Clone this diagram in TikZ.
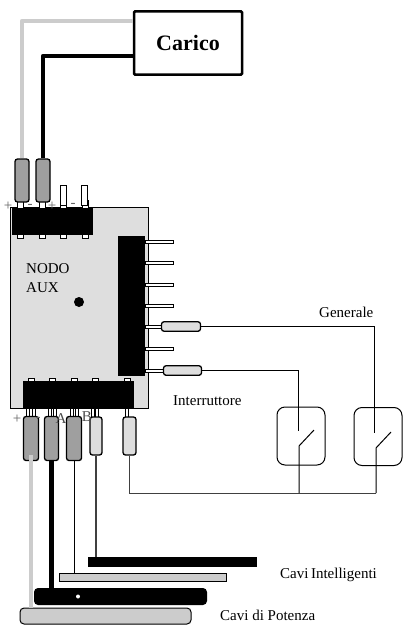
\documentclass[tikz,border=0pt]{standalone}
\usepackage{fontspec}
\setmainfont{Liberation Serif}
\tikzset{
  label15/.style={inner sep=0pt,font=\fontsize{15}{15}\selectfont},
  block/.style={fill=black,inner sep=0pt},
  plug/.style={draw,line width=1.3pt,rounded corners=2.5pt,fill=gray!75,inner sep=0pt},
  lightplug/.style={plug,fill=black!13},
  pin/.style={draw,line width=0.8pt,fill=white,inner sep=0pt},
  bar/.style={inner sep=0pt},
  switchbox/.style={draw,line width=1pt,rounded corners=8pt,inner sep=0pt,minimum width=48pt,minimum height=58pt},
  wire/.style={line width=1pt},
  powergrey/.style={line width=4.5pt,draw=black!20},
  powerblack/.style={line width=4.5pt,draw=black}
}
\begin{document}
\begin{tikzpicture}[x=1pt,y=-1pt]
  \useasboundingbox (0,0) rectangle (404,626);
  % Load
  \node[draw,line width=2.5pt,rounded corners=1pt,inner sep=0pt,minimum width=108pt,minimum height=63pt,font=\fontsize{22}{22}\selectfont\bfseries] (carico) at (188,43) {Carico};
  \coordinate (caricoA) at (carico.west |- 0,21);
  \coordinate (caricoB) at (carico.west |- 0,56);
  % Board
  \node[draw,line width=1pt,fill=black!13,inner sep=0pt,minimum width=138pt,minimum height=201pt] (nodo) at (79.5,307.5) {};
  \node[label15,anchor=west,align=left] (nodotext) at (26,278.5) {NODO\\[4pt]AUX};
  \node[circle,fill=black,inner sep=0pt,minimum size=10pt] (dot) at (79,302) {};
  % Top pins
  \foreach \x in {20, 42, 63, 85} {
    \draw[line width=0.8pt,fill=white] (\x-3,200) rectangle (\x+3,208);
    \draw[line width=0.8pt,fill=white] (\x-3,234) rectangle (\x+3,238.5);
  }
  \node[pin,minimum width=6pt,minimum height=20pt] (pinC) at (63,195) {};
  \node[pin,minimum width=6pt,minimum height=20pt] (pinD) at (84.5,195) {};
  \node[block,minimum width=81pt,minimum height=27pt] (topblock) at (52.5,221.5) {};
  \node[plug,minimum width=14pt,minimum height=43pt] (plugA) at (22,180.5) {};
  \node[plug,minimum width=14pt,minimum height=43pt] (plugB) at (43,180.5) {};
  \node[label15,text=black!60] (plus) at (8,206) {+};
  \node[label15,text=black!60] (minus) at (30,206) {-};
  \node[label15,text=black!60] (plusb) at (52,206) {+};
  \node[label15,text=black!60] (minusb) at (73,205) {-};
  % Power wires to the load
  \draw[powergrey,line join=round] (plugA.north) -- (plugA.north |- caricoA) -- (caricoA);
  \draw[powerblack,line join=round] (plugB.north) -- (plugB.north |- caricoB) -- (caricoB);
  % Side pins
  \foreach \y in {242, 263, 285, 306, 349} {
    \draw[line width=0.8pt,fill=white] (145,\y-1.5) rectangle (173,\y+1.5);
  }
  \draw[line width=0.8pt,fill=white] (145,325.5) rectangle (163,328.5);
  \draw[line width=0.8pt,fill=white] (145,369) rectangle (165,372);
  \node[block,minimum width=27pt,minimum height=140pt] (sideblock) at (131.5,305.5) {};
  \node[lightplug,minimum width=39pt,minimum height=9.5pt] (plugE) at (181,326.5) {};
  \node[lightplug,minimum width=38pt,minimum height=9.5pt] (plugF) at (182.5,370.5) {};
  % Bottom pins
  \foreach \x in {31, 52, 74, 95, 127} {
    \draw[line width=0.8pt,fill=white] (\x-3,378.5) rectangle (\x+3,383);
  }
  \foreach \x in {28, 34, 50, 55, 72, 77, 93, 97, 127} {
    \draw[line width=0.8pt,fill=white] (\x-1.5,407) -- (\x-1.5,417) (\x+1.5,407) -- (\x+1.5,417);
  }
  \node[block,minimum width=111pt,minimum height=27pt] (bottomblock) at (78.5,394.5) {};
  % Lower plugs
  \node[plug,minimum width=15pt,minimum height=44pt] (plugG) at (31,438.5) {};
  \node[plug,minimum width=14pt,minimum height=44pt] (plugH) at (51.5,438.5) {};
  \node[plug,minimum width=15pt,minimum height=44pt] (plugI) at (74,438.5) {};
  \node[lightplug,minimum width=12pt,minimum height=38pt] (plugJ) at (96,436) {};
  \node[lightplug,minimum width=13pt,minimum height=38pt] (plugK) at (129.5,436) {};
  \node[label15,text=black!60] (plusc) at (17,419) {+};
  \node[label15,text=black!60] (minusc) at (38,419) {-};
  \node[label15,text=black!70] (labA) at (61,419) {A};
  \node[label15,text=black!70] (labB) at (87,417) {B};
  % Cables
  \node[block,bar,minimum width=169pt,minimum height=10pt] (barA) at (172.5,562) {};
  \node[draw,line width=1pt,fill=black!20,bar,minimum width=167pt,minimum height=8pt] (barB) at (142.5,577) {};
  \node[block,rounded corners=4pt,minimum width=173pt,minimum height=17pt] (barC) at (120.5,596.5) {};
  \node[circle,fill=white,inner sep=0pt,minimum size=4pt] (barCdot) at (78,596.5) {};
  \node[draw,line width=1pt,fill=black!20,rounded corners=4pt,bar,minimum width=171pt,minimum height=16pt] (barD) at (105.5,616) {};
  \draw[powergrey] (plugG.center |- 0,455) -- (plugG.center |- barD.north);
  \draw[line width=5pt] (plugH.south) -- (plugH.south |- barC.north);
  \draw[wire] (plugI.south) -- (plugI.south |- barB.north);
  \draw[wire,draw=black!75,line width=1.5pt] (plugJ.south) -- (plugJ.south |- barA.north);
  % Switches
  \node[switchbox] (switchA) at (301,436) {};
  \node[switchbox] (switchB) at (378,436.5) {};
  \coordinate (busleft) at (130,493);
  \coordinate (busmid) at (299,493);
  \coordinate (busright) at (376,493);
  \coordinate (pivotA) at (299,446);
  \coordinate (pivotB) at (376,448);
  \coordinate (tipA) at (314,430);
  \coordinate (tipB) at (391,432);
  \coordinate (contactA) at (298,431);
  \coordinate (contactB) at (374.5,433);
  \draw[wire] (plugE.east) -- (contactB |- plugE.east) -- (contactB);
  \draw[wire] (plugF.east) -- (contactA |- plugF.east) -- (contactA);
  \draw[wire,draw=black!75] (plugK.south) -- (plugK.south |- busleft) -- (busright);
  \draw[wire] (tipA) -- (pivotA) -- (busmid);
  \draw[wire] (tipB) -- (pivotB) -- (busright);
  % Labels
  \node[label15,anchor=west] (generale) at (319,312.5) {Generale};
  \node[label15,anchor=west] (interruttore) at (173,400.5) {Interruttore};
  \node[label15,anchor=west] (caviint) at (280,575) {Cavi\,Intelligenti};
  \node[label15,anchor=west] (cavipot) at (220,615) {Cavi di Potenza};
\end{tikzpicture}
\end{document}
